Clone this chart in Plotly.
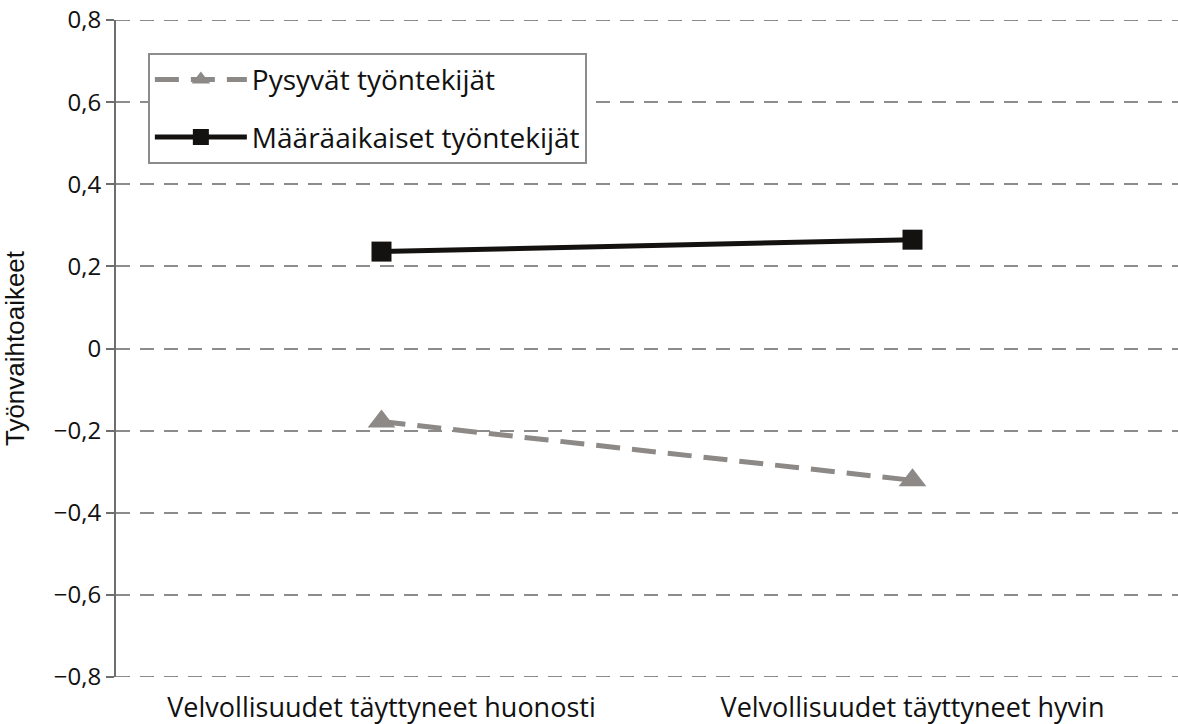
import plotly.graph_objects as go

categories = ["Velvollisuudet täyttyneet huonosti", "Velvollisuudet täyttyneet hyvin"]
pysyvat = [-0.178, -0.321]
maaraaikaiset = [0.236, 0.265]
tick_vals = [-0.8, -0.6, -0.4, -0.2, 0, 0.2, 0.4, 0.6, 0.8]
tick_text = ["\u22120,8", "\u22120,6", "\u22120,4", "\u22120,2", "0", "0,2", "0,4", "0,6", "0,8"]

GRAY = "#8c8987"
BLACK = "#141210"
GRID = "#8c8c8c"
GRID_DASH = "14px,10px"

fig = go.Figure()
fig.add_trace(go.Scatter(
    x=categories, y=pysyvat, name="Pysyvät työntekijät",
    mode="lines+markers", legendgroup="a",
    line=dict(color=GRAY, width=5, dash="24px,12px"),
    marker=dict(symbol="triangle-up", size=24, color=GRAY),
))
fig.add_trace(go.Scatter(
    x=categories, y=maaraaikaiset, name="Määräaikaiset työntekijät",
    mode="lines+markers", legendgroup="b",
    line=dict(color=BLACK, width=5),
    marker=dict(symbol="square", size=20, color=BLACK),
))

# grid lines at the two ends of the value axis (plotly omits them at the range edges)
for v in (tick_vals[0], tick_vals[-1]):
    fig.add_shape(type="line", xref="paper", yref="y", x0=0, x1=1, y0=v, y1=v,
                  line=dict(color=GRID, width=2, dash=GRID_DASH), layer="below")

fig.update_layout(
    width=1178, height=724,
    margin=dict(l=116, r=0, t=20, b=47, autoexpand=False),
    paper_bgcolor="white", plot_bgcolor="white",
    font=dict(family="Open Sans, Noto Sans, sans-serif", size=24, color="#111"),
    showlegend=True,
    legend=dict(
        x=0.030, y=0.950, xanchor="left", yanchor="top",
        bordercolor=GRID, borderwidth=2, bgcolor="white",
        font=dict(size=28), tracegroupgap=18, itemwidth=92,
        traceorder="grouped",
    ),
    xaxis=dict(
        type="category", showgrid=False, zeroline=False, showline=False,
        ticks="", tickfont=dict(size=27), ticklabelstandoff=12,
        ticklabeloverflow="allow", automargin=False,
        range=[-0.5, 1.5],
    ),
    yaxis=dict(
        range=[-0.8, 0.8], tickvals=tick_vals, ticktext=tick_text,
        showgrid=True, gridcolor=GRID, gridwidth=2, griddash=GRID_DASH,
        zeroline=False, showline=True, linecolor="#6e6e6e", linewidth=2,
        ticks="outside", ticklen=8, tickcolor="#6e6e6e", tickwidth=2,
        tickfont=dict(size=24), ticklabeloverflow="allow",
        automargin=False,
        title=dict(text="Työnvaihtoaikeet", font=dict(family="Liberation Sans, Arial, sans-serif", size=26), standoff=30),
    ),
)

fig.write_html(
    "out.html",
    config={"displayModeBar": False},
    post_script="document.documentElement.style.overflow='hidden';"
                "document.body.style.margin='0';document.body.style.overflow='hidden';",
)
